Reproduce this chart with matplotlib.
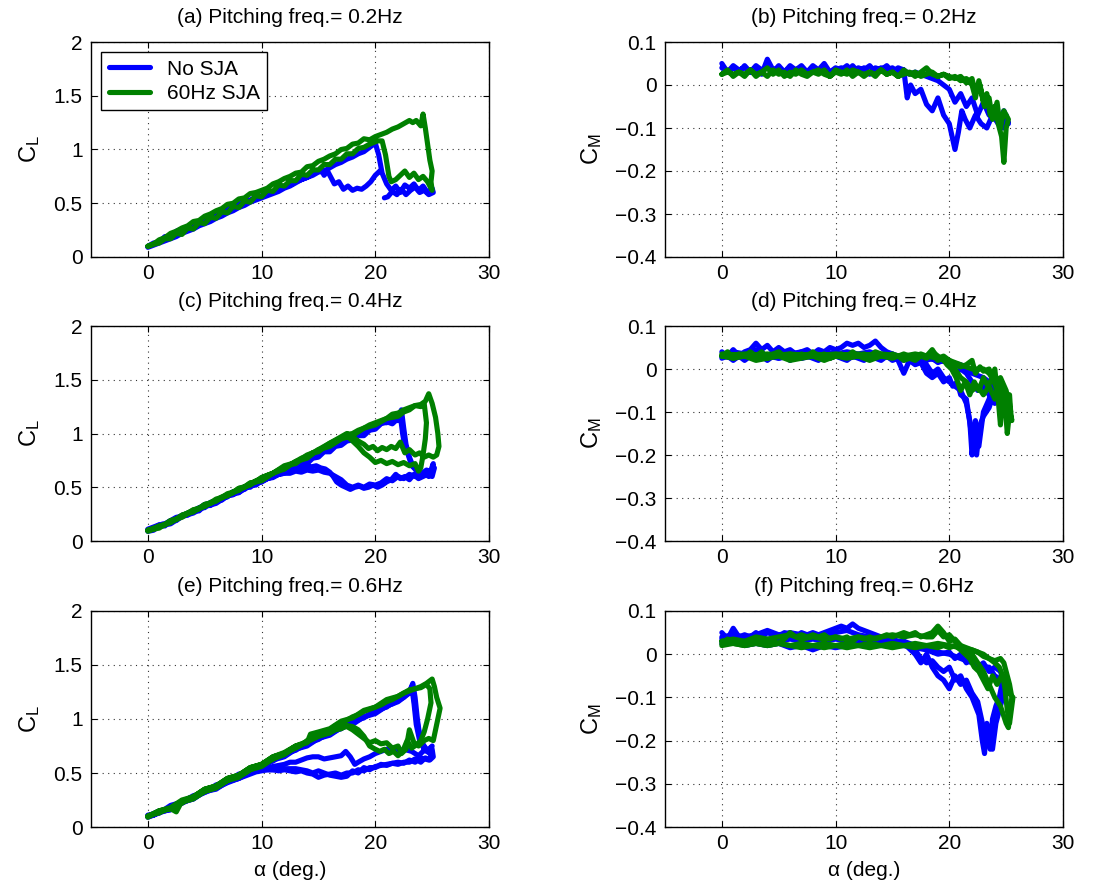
import numpy as np
import matplotlib
matplotlib.use("Agg")
import matplotlib.pyplot as plt

plt.rcParams['font.family'] = ['Liberation Sans', 'DejaVu Sans']
plt.rcParams['mathtext.fontset'] = 'custom'
plt.rcParams['mathtext.rm'] = 'Liberation Sans'
plt.rcParams['mathtext.it'] = 'Liberation Sans'

nan = float('nan')

# ---------------- data: (alpha [deg], coefficient) ----------------
# (a) CL, 0.2 Hz
a_blue = [(0,0.10),(0.5,0.13),(1,0.14),(1.5,0.19),(2,0.18),(2.5,0.24),(3,0.26),(3.5,0.27),(4,0.31),(4.5,0.33),
          (5,0.36),(5.5,0.37),(6,0.41),(6.5,0.42),(7,0.45),(7.5,0.48),(8,0.49),(8.5,0.52),(9,0.53),(9.5,0.56),
          (10,0.57),(10.5,0.60),(11,0.61),(11.5,0.63),(12,0.66),(12.5,0.67),(13,0.70),(13.5,0.72),(14,0.74),(14.5,0.76),
          (15,0.79),(15.5,0.80),(16,0.83),(16.5,0.86),(17,0.88),(17.5,0.91),(18,0.93),(18.5,0.96),(19,0.98),(19.5,1.02),(20,1.06),
          (20.3,0.95),(20.6,0.78),(21.0,0.68),(21.4,0.62),(21.8,0.66),(22.2,0.60),(22.6,0.67),(23.0,0.64),(23.4,0.68),(23.8,0.62),
          (24.2,0.66),(24.6,0.60),(25.0,0.64),(25.1,0.60),(24.7,0.58),(24.3,0.62),(23.9,0.60),(23.5,0.65),(23.1,0.62),(22.7,0.58),
          (22.3,0.63),(21.9,0.58),(21.5,0.61),(21.1,0.56),(20.8,0.55),(nan,nan),
          (20.4,0.80),(20.0,0.76),(19.6,0.70),(19.2,0.66),(18.8,0.63),(18.4,0.64),(18.0,0.62),(17.6,0.66),(17.2,0.63),(16.8,0.70),
          (16.4,0.68),(16.1,0.74),(15.8,0.80),(15.5,0.76),(15.2,0.82),(14.8,0.79),(14.4,0.77),(14.0,0.74),(13.5,0.72),(13.0,0.69),
          (12.5,0.66),(12.0,0.64),(11.5,0.61),(11.0,0.59),(10.5,0.57),(10.0,0.55),(9.5,0.53),(9,0.51),(8.5,0.48),(8,0.46),
          (7.5,0.43),(7,0.41),(6.5,0.38),(6,0.36),(5.5,0.33),(5,0.31),(4.5,0.29),(4,0.26),(3.5,0.24),(3,0.22),
          (2.5,0.19),(2,0.17),(1.5,0.15),(1,0.13),(0.5,0.11),(0,0.09)]
a_green = [(0,0.10),(0.5,0.12),(1,0.16),(1.5,0.18),(2,0.22),(2.5,0.24),(3,0.27),(3.5,0.29),(4,0.33),(4.5,0.34),
           (5,0.38),(5.5,0.40),(6,0.43),(6.5,0.45),(7,0.49),(7.5,0.50),(8,0.54),(8.5,0.55),(9,0.59),(9.5,0.60),
           (10,0.62),(10.5,0.64),(11,0.68),(11.5,0.70),(12,0.73),(12.5,0.75),(13,0.78),(13.5,0.79),(14,0.84),(14.5,0.85),
           (15,0.89),(15.5,0.91),(16,0.94),(16.5,0.96),(17,1.00),(17.5,1.01),(18,1.05),(18.5,1.06),(19,1.10),(19.5,1.09),(20,1.12),
           (20.5,1.14),(21,1.16),(21.5,1.19),(22,1.21),(22.5,1.24),(23,1.27),(23.3,1.25),(23.6,1.27),(24,1.22),(24.2,1.33),
           (24.4,1.20),(24.6,1.05),(24.8,0.90),(25.0,0.80),(24.9,0.70),(25.0,0.62),
           (24.6,0.70),(24.2,0.75),(23.8,0.72),(23.4,0.78),(23.0,0.74),(22.6,0.80),(22.2,0.76),(21.8,0.72),(21.4,0.70),(21.2,0.75),
           (20.9,0.95),(20.6,1.08),(20.2,1.08),
           (19.5,1.05),(19,1.02),(18.5,1.01),(18,0.96),(17.5,0.96),(17,0.91),(16.5,0.91),(16,0.86),(15.5,0.86),(15,0.81),
           (14.5,0.81),(14,0.76),(13.5,0.77),(13,0.71),(12.5,0.71),(12,0.66),(11.5,0.67),(11,0.61),(10.5,0.62),(10,0.56),
           (9.5,0.57),(9,0.51),(8.5,0.52),(8,0.46),(7.5,0.47),(7,0.41),(6.5,0.42),(6,0.36),(5.5,0.37),(5,0.31),
           (4.5,0.32),(4,0.26),(3.5,0.27),(3,0.21),(2.5,0.22),(2,0.17),(1.5,0.17),(1,0.13),(0.5,0.12),(0,0.10)]

# (b) CM, 0.2 Hz
b_blue = [(0,0.05),(0.5,0.03),(1,0.04),(1.5,0.03),(2,0.045),(2.5,0.03),(3,0.04),(3.5,0.025),(4,0.06),(4.5,0.035),
          (5,0.04),(5.5,0.03),(6,0.045),(6.5,0.035),(7,0.04),(7.5,0.03),(8,0.045),(8.5,0.035),(9,0.05),(9.5,0.03),
          (10,0.04),(10.5,0.035),(11,0.045),(11.5,0.03),(12,0.04),(12.5,0.035),(13,0.045),(13.5,0.03),(14,0.04),(14.5,0.035),
          (15,0.04),(15.5,0.03),(16,0.035),
          (16.3,-0.03),(16.6,0.0),(17,-0.02),(17.5,-0.01),(18,-0.045),(18.5,-0.06),(19,-0.03),(19.5,-0.07),(20,-0.09),(20.5,-0.15),
          (20.8,-0.11),(21.1,-0.06),(21.4,-0.08),(21.8,-0.10),(22.3,-0.07),(22.8,-0.09),(23.3,-0.10),(23.8,-0.07),(24.3,-0.09),(24.7,-0.10),
          (25.0,-0.07),(25.2,-0.09),
          (24.8,-0.06),(24.4,-0.08),(24.0,-0.05),(23.5,-0.07),(23.0,-0.04),(22.5,-0.07),(22.0,-0.03),(21.5,-0.05),(21.0,-0.02),(20.5,-0.04),
          (20.0,-0.01),(19.5,0.0),(19.0,0.01),(18.5,0.015),(18.0,0.02),(17.5,0.025),(17.0,0.03),(16.5,0.025),(16.0,0.035),
          (15.5,0.04),(15,0.03),(14.5,0.045),(14,0.035),(13.5,0.04),(13,0.025),(12.5,0.04),(12,0.03),(11.5,0.045),(11,0.03),
          (10.5,0.04),(10,0.035),(9.5,0.025),(9,0.04),(8.5,0.03),(8,0.04),(7.5,0.03),(7,0.045),(6.5,0.035),(6,0.04),
          (5.5,0.03),(5,0.045),(4.5,0.03),(4,0.04),(3.5,0.035),(3,0.045),(2.5,0.03),(2,0.04),(1.5,0.035),(1,0.045),
          (0.5,0.03),(0,0.04)]
b_green = [(0,0.025),(0.5,0.035),(1,0.02),(1.5,0.03),(2,0.025),(2.5,0.035),(3,0.02),(3.5,0.03),(4,0.04),(4.5,0.025),
           (5,0.035),(5.5,0.02),(6,0.03),(6.5,0.025),(7,0.035),(7.5,0.025),(8,0.03),(8.5,0.035),(9,0.025),(9.5,0.02),
           (10,0.035),(10.5,0.03),(11,0.025),(11.5,0.035),(12,0.03),(12.5,0.02),(13,0.03),(13.5,0.025),(14,0.035),(14.5,0.025),
           (15,0.03),(15.5,0.02),(16,0.025),(16.5,0.03),(17,0.02),(17.5,0.03),(18,0.04),(18.5,0.025),(19,0.02),(19.5,0.025),(20,0.015),
           (20.5,0.02),(21,0.01),(21.5,0.015),(22,0.0),(22.3,-0.03),(22.6,0.01),(23,-0.04),(23.3,-0.02),(23.6,-0.07),(24,-0.05),
           (24.3,-0.09),(24.6,-0.12),(24.8,-0.18),(25.0,-0.10),(25.2,-0.08),
           (24.8,-0.06),(24.5,-0.10),(24.2,-0.04),(23.8,-0.08),(23.5,-0.03),(23.1,-0.05),(22.7,0.0),(22.3,-0.02),(22.0,0.015),(21.5,0.005),
           (21.0,0.02),(20.5,0.015),(20.0,0.02),
           (19.5,0.025),(19,0.02),(18.5,0.03),(18,0.025),(17.5,0.02),(17,0.03),(16.5,0.025),(16,0.035),(15.5,0.02),(15,0.03),
           (14.5,0.025),(14,0.035),(13.5,0.02),(13,0.03),(12.5,0.025),(12,0.03),(11.5,0.02),(11,0.035),(10.5,0.025),(10,0.03),
           (9.5,0.02),(9,0.035),(8.5,0.025),(8,0.03),(7.5,0.02),(7,0.025),(6.5,0.035),(6,0.02),(5.5,0.03),(5,0.025),
           (4.5,0.035),(4,0.02),(3.5,0.03),(3,0.025),(2.5,0.035),(2,0.02),(1.5,0.03),(1,0.025),(0.5,0.03),(0,0.025)]

# (c) CL, 0.4 Hz (two cycles each)
c_blue_1 = [(0,0.10),(0.5,0.12),(1,0.15),(1.5,0.16),(2,0.19),(2.5,0.22),(3,0.23),(3.5,0.26),(4,0.28),(4.5,0.31),
            (5,0.31),(5.5,0.36),(6,0.37),(6.5,0.40),(7,0.41),(7.5,0.46),(8,0.45),(8.5,0.50),(9,0.50),(9.5,0.54),
            (10,0.55),(10.5,0.58),(11,0.59),(11.5,0.62),(12,0.63),(12.5,0.67),(13,0.66),(13.5,0.71),(14,0.72),(14.5,0.77),
            (15,0.78),(15.5,0.83),(16,0.83),(16.5,0.88),(17,0.89),(17.5,0.93),(18,0.94),(18.5,0.98),(19,0.98),(19.5,1.03),
            (20,1.04),(20.5,1.09),(21,1.11),(21.5,1.09),(22,1.14),
            (22.3,1.22),(22.5,1.05),(22.7,0.90),(23.0,0.78),(23.3,0.70),(23.7,0.64),(24.0,0.60),(24.5,0.62),(25.0,0.60),(25.2,0.68),
            (24.6,0.62),(24.2,0.60),(23.8,0.58),(23.4,0.62),(23.0,0.57),(22.6,0.60),(22.2,0.58),(21.8,0.62),(21.4,0.57),(21.0,0.55),
            (20.6,0.52),(20.2,0.50),(19.8,0.52),(19.4,0.50),(19.0,0.49),(18.6,0.51),(18.2,0.50),(17.8,0.48),(17.4,0.50),(17.0,0.52),
            (16.6,0.55),(16.3,0.60),(16.0,0.64),(15.6,0.67),(15.2,0.68),(14.8,0.70),(14.4,0.69),(14.0,0.70),(13.6,0.68),(13.2,0.69),
            (12.8,0.66),(12.4,0.67),(12.0,0.64),(11.5,0.62),(11.0,0.60),(10.5,0.58),(10.0,0.56),(9.5,0.52),(9,0.52),(8.5,0.48),
            (8,0.47),(7.5,0.43),(7,0.42),(6.5,0.38),(6,0.37),(5.5,0.33),(5,0.33),(4.5,0.28),(4,0.28),(3.5,0.24),
            (3,0.23),(2.5,0.19),(2,0.19),(1.5,0.14),(1,0.14),(0.5,0.10),(0,0.09)]
c_blue_2 = [(0,0.11),(1,0.15),(2,0.17),(3,0.24),(4,0.27),(5,0.34),(6,0.36),(7,0.43),(8,0.46),(9,0.53),
            (10,0.56),(11,0.62),(12,0.65),(13,0.72),(14,0.75),(15,0.83),(16,0.86),(17,0.94),(17.5,0.95),(18,0.97),
            (18.5,1.00),(19,1.02),(19.5,1.06),(20,1.07),(20.5,1.10),(21,1.10),(21.5,1.13),(22,1.12),(22.2,1.17),(22.4,1.00),
            (22.6,0.88),(22.9,0.80),(23.2,0.70),(23.6,0.66),(24,0.62),(24.5,0.66),(25,0.64),(25.1,0.72),(24.7,0.60),(24.3,0.63),
            (23.9,0.59),(23.5,0.60),(23,0.62),(22.5,0.58),(22,0.60),(21.5,0.56),(21,0.58),(20.5,0.54),(20,0.52),(19.5,0.53),
            (19,0.50),(18.5,0.52),(18,0.50),(17.5,0.52),(17,0.57),(16.5,0.60),(16,0.63),(15.5,0.64),(15,0.66),(14.5,0.65),
            (14,0.66),(13.5,0.64),(13,0.65),(12.5,0.63),(12,0.63),(11,0.61),(10,0.55),(9,0.52),(8,0.45),(7,0.42),
            (6,0.35),(5,0.32),(4,0.26),(3,0.23),(2,0.16),(1,0.14),(0,0.10)]
c_green_1 = [(0,0.09),(0.5,0.11),(1,0.14),(1.5,0.15),(2,0.19),(2.5,0.20),(3,0.24),(3.5,0.26),(4,0.29),(4.5,0.30),
             (5,0.34),(5.5,0.35),(6,0.38),(6.5,0.41),(7,0.43),(7.5,0.45),(8,0.49),(8.5,0.50),(9,0.54),(9.5,0.55),
             (10,0.59),(10.5,0.61),(11,0.63),(11.5,0.66),(12,0.67),(12.5,0.71),(13,0.72),(13.5,0.76),(14,0.78),(14.5,0.82),
             (15,0.83),(15.5,0.87),(16,0.89),(16.5,0.92),(17,0.95),(17.5,0.99),(18,1.00),(18.5,1.03),(19,1.05),(19.5,1.08),
             (20,1.10),(20.5,1.12),(21,1.14),(21.5,1.18),(22,1.19),(22.5,1.22),(23,1.24),(23.5,1.26),(24,1.27),(24.4,1.30),
             (24.7,1.37),(25.0,1.28),(25.3,1.15),(25.5,1.00),(25.6,0.88),(25.4,0.80),(25.1,0.78),(24.7,0.80),(24.3,0.78),(23.9,0.82),
             (23.5,0.80),(23.0,0.85),(22.6,0.82),(22.2,0.92),(21.8,0.86),(21.4,0.88),(21.0,0.85),(20.6,0.87),(20.2,0.84),(19.8,0.88),
             (19.4,0.86),(19.0,0.90),(18.5,0.93),(18.0,0.97),(17.5,1.00),(17.0,0.97),(16.5,0.94),(16.0,0.91),(15.5,0.88),(15.0,0.85),
             (14.5,0.82),(14,0.79),(13.5,0.77),(13,0.74),(12.5,0.71),(12,0.69),(11.5,0.66),(11,0.63),(10.5,0.61),(10,0.58),
             (9.5,0.56),(9,0.53),(8.5,0.50),(8,0.48),(7.5,0.45),(7,0.43),(6.5,0.40),(6,0.38),(5.5,0.35),(5,0.33),
             (4.5,0.30),(4,0.28),(3.5,0.26),(3,0.23),(2.5,0.20),(2,0.18),(1.5,0.15),(1,0.13),(0.5,0.11),(0,0.10)]
c_green_2 = [(0,0.10),(1,0.14),(2,0.17),(3,0.24),(4,0.27),(5,0.34),(6,0.37),(7,0.44),(8,0.47),(9,0.54),
             (10,0.56),(11,0.63),(12,0.67),(13,0.74),(14,0.77),(15,0.85),(16,0.88),(17,0.95),(18,0.98),(19,1.05),
             (20,1.08),(21,1.14),(22,1.16),(22.5,1.20),(23,1.22),(23.5,1.26),(24,1.25),(24.3,1.28),(24.5,1.10),(24.4,0.95),
             (24.2,0.80),(24.0,0.68),(23.8,0.65),(23.5,0.72),(23.0,0.70),(22.5,0.73),(22.0,0.71),(21.5,0.74),(21.0,0.72),(20.5,0.75),
             (20.0,0.73),(19.5,0.78),(19.0,0.82),(18.5,0.88),(18.0,0.93),(17.5,0.98),(17,0.96),(16,0.91),(15,0.84),(14,0.80),
             (13,0.73),(12,0.70),(11,0.63),(10,0.59),(9,0.52),(8,0.49),(7,0.42),(6,0.39),(5,0.32),(4,0.29),
             (3,0.22),(2,0.19),(1,0.12),(0,0.10)]

# (d) CM, 0.4 Hz
d_blue_1 = [(0,0.04),(0.5,0.03),(1,0.045),(1.5,0.03),(2,0.04),(2.5,0.045),(3,0.06),(3.5,0.045),(4,0.055),(4.5,0.04),
            (5,0.05),(5.5,0.04),(6,0.045),(6.5,0.035),(7,0.04),(7.5,0.045),(8,0.035),(8.5,0.045),(9,0.04),(9.5,0.05),
            (10,0.045),(10.5,0.05),(11,0.06),(11.5,0.055),(12,0.06),(12.5,0.05),(13,0.055),(13.5,0.065),(14,0.05),(14.5,0.04),
            (15,0.035),(15.5,0.03),(16,0.025),(16.5,0.02),(17,0.015),(17.5,0.02),(18,0.01),(18.5,-0.01),(19,0.0),(19.5,-0.02),
            (20,-0.03),(20.5,-0.04),(21,-0.05),(21.5,-0.08),(21.8,-0.12),(22,-0.20),(22.2,-0.15),(22.4,-0.20),(22.7,-0.13),(23,-0.11),
            (23.5,-0.09),(24,-0.05),(24.5,-0.04),(25,-0.07),(24.5,-0.06),(24,-0.08),(23.5,-0.06),(23,-0.04),(22.5,-0.05),(22,-0.03),
            (21.5,-0.01),(21,0.0),(20.5,-0.01),(20,0.01),(19.5,0.02),(19,0.015),(18.5,0.025),(18,0.02),(17.5,0.03),(17,0.025),
            (16.5,0.03),(16,0.02),(15.5,0.025),(15,0.02),(14.5,0.03),(14,0.02),(13.5,0.025),(13,0.03),(12.5,0.02),(12,0.025),
            (11.5,0.03),(11,0.02),(10.5,0.025),(10,0.03),(9.5,0.025),(9,0.03),(8.5,0.02),(8,0.025),(7.5,0.03),(7,0.025),
            (6.5,0.03),(6,0.02),(5.5,0.03),(5,0.025),(4.5,0.03),(4,0.02),(3.5,0.03),(3,0.025),(2.5,0.03),(2,0.02),
            (1.5,0.03),(1,0.02),(0.5,0.03),(0,0.025)]
d_blue_2 = [(0,0.03),(1,0.04),(2,0.035),(3,0.045),(4,0.03),(5,0.04),(6,0.035),(7,0.04),(8,0.03),(9,0.04),
            (10,0.035),(11,0.04),(12,0.035),(13,0.04),(14,0.03),(15,0.035),(15.5,0.02),(16,-0.01),(16.5,0.02),(17,0.01),
            (17.5,0.015),(18,-0.01),(18.5,-0.02),(19,-0.01),(19.5,-0.03),(20,-0.02),(20.3,-0.04),(20.7,-0.03),(21,-0.06),(21.5,-0.07),
            (22,-0.16),(22.3,-0.12),(22.6,-0.18),(23,-0.10),(23.5,-0.07),(24,-0.03),(24.5,-0.05),(25,-0.06),(24.5,-0.04),(24,-0.06),
            (23.5,-0.03),(23,-0.02),(22,-0.01),(21,0.01),(20,0.015),(19,0.02),(18,0.025),(17,0.02),(16,0.03),(15,0.025),
            (14,0.03),(13,0.025),(12,0.03),(11,0.025),(10,0.03),(9,0.025),(8,0.03),(7,0.025),(6,0.03),(5,0.025),
            (4,0.03),(3,0.025),(2,0.03),(1,0.025),(0,0.03)]
d_green_1 = [(0,0.03),(0.5,0.04),(1,0.025),(1.5,0.035),(2,0.03),(2.5,0.04),(3,0.03),(3.5,0.04),(4,0.025),(4.5,0.035),
             (5,0.04),(5.5,0.03),(6,0.035),(6.5,0.025),(7,0.035),(7.5,0.03),(8,0.04),(8.5,0.03),(9,0.035),(9.5,0.025),
             (10,0.03),(10.5,0.035),(11,0.03),(11.5,0.04),(12,0.03),(12.5,0.035),(13,0.03),(13.5,0.04),(14,0.035),(14.5,0.03),
             (15,0.035),(15.5,0.03),(16,0.035),(16.5,0.03),(17,0.03),(17.5,0.035),(18,0.03),(18.5,0.04),(19,0.03),(19.5,0.02),
             (20,0.015),(20.5,0.01),(21,0.005),(21.5,0.01),(22,0.02),(22.3,-0.01),(22.7,0.005),(23,-0.005),(23.5,0.0),(23.8,-0.02),
             (24.0,0.0),(24.3,-0.07),(24.5,-0.13),(24.7,-0.05),(24.9,-0.08),(25.1,-0.15),(25.3,-0.10),(25.5,-0.12),(25.3,-0.08),(25.0,-0.06),
             (24.6,-0.03),(24.2,-0.05),(23.8,-0.02),(23.4,-0.04),(23.0,-0.02),(22.6,-0.05),(22.2,-0.03),(21.8,-0.06),(21.4,-0.03),(21.0,-0.05),
             (20.6,-0.02),(20.2,0.0),(19.8,0.01),(19.4,0.025),(19,0.02),(18.5,0.035),(18,0.025),(17.5,0.03),(17,0.02),(16.5,0.025),
             (16,0.02),(15.5,0.03),(15,0.025),(14,0.03),(13,0.02),(12,0.03),(11,0.025),(10,0.03),(9,0.02),(8,0.03),
             (7,0.025),(6,0.02),(5,0.03),(4,0.025),(3,0.02),(2,0.03),(1,0.025),(0,0.03)]
d_green_2 = [(0,0.035),(2,0.03),(4,0.035),(6,0.03),(8,0.035),(10,0.03),(12,0.035),(14,0.03),(16,0.03),(17,0.035),
             (18,0.03),(18.5,0.045),(19,0.025),(19.5,0.03),(20,0.02),(20.5,0.0),(21,-0.02),(21.5,-0.03),(22,-0.05),(22.5,-0.04),
             (23,-0.06),(23.5,-0.04),(24,-0.07),(24.3,-0.04),(24.6,-0.10),(24.8,-0.06),(25,-0.09),(25.3,-0.06),(25.4,-0.10),(25.0,-0.05),
             (24.5,-0.02),(24,-0.03),(23.5,-0.01),(23,0.0),(22,0.0),(21,0.01),(20,0.02),(19,0.025),(18,0.03),(16,0.03),
             (14,0.035),(12,0.03),(10,0.035),(8,0.03),(6,0.035),(4,0.03),(2,0.035),(0,0.03)]

# (e) CL, 0.6 Hz
e_blue_1 = [(0,0.10),(0.5,0.11),(1,0.14),(1.5,0.16),(2,0.18),(2.5,0.21),(3,0.23),(3.5,0.26),(4,0.28),(4.5,0.30),
            (5,0.33),(5.5,0.35),(6,0.38),(6.5,0.40),(7,0.43),(7.5,0.45),(8,0.47),(8.5,0.50),(9,0.52),(9.5,0.55),
            (10,0.57),(10.5,0.60),(11,0.62),(11.5,0.65),(12,0.67),(12.5,0.69),(13,0.72),(13.5,0.74),(14,0.77),(14.5,0.79),
            (15,0.82),(15.5,0.84),(16,0.87),(16.5,0.89),(17,0.92),(17.5,0.94),(18,0.97),(18.5,0.99),(19,1.02),(19.5,1.04),
            (20,1.07),(20.5,1.09),(21,1.12),(21.5,1.14),(22,1.17),(22.5,1.20),(23,1.25),(23.3,1.33),(23.5,1.20),(23.7,1.00),
            (23.9,0.85),(24.2,0.76),(24.6,0.70),(25,0.72),(25.1,0.65),(24.8,0.62),(24.4,0.64),(24,0.60),(23.5,0.63),(23,0.60),
            (22.5,0.60),(22,0.58),(21.5,0.59),(21,0.57),(20.5,0.58),(20,0.55),(19.5,0.55),(19,0.52),(18.5,0.53),(18,0.50),
            (17.5,0.50),(17,0.48),(16.5,0.50),(16,0.49),(15.5,0.48),(15,0.46),(14.5,0.49),(14,0.50),(13.5,0.52),(13,0.51),
            (12.5,0.52),(12,0.53),(11.5,0.52),(11,0.53),(10.5,0.53),(10,0.52),(9.5,0.51),(9,0.49),(8,0.45),(7,0.41),
            (6,0.36),(5,0.32),(4,0.27),(3,0.22),(2,0.17),(1,0.13),(0,0.09)]
e_blue_2 = [(0,0.10),(1,0.15),(2,0.17),(3,0.24),(4,0.27),(5,0.34),(6,0.37),(7,0.43),(8,0.46),(9,0.53),
            (10,0.56),(11,0.62),(12,0.65),(13,0.72),(14,0.75),(15,0.82),(16,0.85),(17,0.92),(18,0.95),(19,1.02),
            (20,1.05),(21,1.12),(22,1.16),(23,1.24),(23.2,1.30),(23.4,1.15),(23.6,0.95),(23.9,0.80),(24.3,0.72),(24.8,0.68),
            (25.0,0.75),(24.7,0.72),(24.2,0.70),(23.8,0.66),(23.2,0.70),(22.5,0.72),(22,0.70),(21.5,0.73),(21,0.72),(20.5,0.70),
            (20,0.68),(19.5,0.65),(19,0.63),(18.5,0.60),(18.2,0.58),(17.8,0.65),(17.4,0.70),(17,0.66),(16.5,0.65),(16,0.64),
            (15.5,0.63),(15,0.65),(14.5,0.65),(14,0.64),(13.5,0.62),(13,0.60),(12.5,0.60),(12,0.58),(11.5,0.57),(11,0.56),
            (10.5,0.55),(10,0.54),(9,0.51),(8,0.45),(7,0.42),(6,0.36),(5,0.33),(4,0.26),(3,0.23),(2,0.16),
            (1,0.14),(0,0.10)]
e_blue_3 = [(0,0.11),(1,0.13),(2,0.20),(3,0.23),(4,0.29),(5,0.32),(6,0.39),(7,0.42),(8,0.49),(9,0.51),
            (10,0.58),(11,0.61),(12,0.68),(13,0.71),(14,0.78),(15,0.81),(16,0.88),(17,0.91),(18,0.98),(19,1.01),
            (20,1.08),(21,1.11),(22,1.19),(23,1.24),(23.3,1.28),(23.5,1.10),(23.8,0.90),(24.1,0.78),(24.5,0.72),(25,0.68),
            (24.7,0.62),(24,0.64),(23.5,0.60),(23,0.62),(22.5,0.59),(22,0.60),(21,0.58),(20,0.56),(19.5,0.53),(19,0.55),
            (18.5,0.50),(18,0.52),(17.5,0.47),(17,0.46),(16.5,0.47),(16,0.48),(15.5,0.50),(15,0.52),(14.5,0.50),(14,0.52),
            (13,0.54),(12,0.54),(11,0.53),(10,0.53),(9,0.51),(8,0.45),(7,0.42),(6,0.35),(5,0.33),(4,0.26),
            (3,0.23),(2,0.16),(1,0.14),(0,0.10)]
e_green_1 = [(0,0.10),(0.5,0.12),(1,0.13),(1.5,0.16),(2,0.17),(2.5,0.21),(3,0.22),(3.5,0.26),(4,0.28),(4.5,0.30),
             (5,0.33),(5.5,0.35),(6,0.38),(6.5,0.40),(7,0.43),(7.5,0.46),(8,0.48),(8.5,0.50),(9,0.53),(9.5,0.56),
             (10,0.58),(10.5,0.61),(11,0.63),(11.5,0.66),(12,0.68),(12.5,0.71),(13,0.73),(13.5,0.76),(14,0.80),(14.5,0.82),
             (15,0.85),(15.5,0.88),(16,0.90),(16.5,0.94),(17,0.96),(17.5,0.99),(18,1.02),(18.5,1.04),(19,1.07),(19.5,1.09),
             (20,1.11),(20.5,1.13),(21,1.16),(21.5,1.18),(22,1.21),(22.5,1.24),(23,1.26),(23.5,1.28),(24,1.30),(24.5,1.33),
             (25,1.37),(25.2,1.30),(25.4,1.20),(25.7,1.10),(25.5,1.00),(25.3,0.90),(25.1,0.80),(24.7,0.82),(24.3,0.80),(23.8,0.75),
             (23.4,0.78),(23.0,0.90),(22.7,0.72),(22.3,0.68),(22.0,0.75),(21.5,0.73),(21.0,0.78),(20.5,0.77),(20.0,0.80),(19.5,0.78),
             (19,0.82),(18.5,0.86),(18,0.90),(17.5,0.93),(17,0.92),(16.5,0.91),(16,0.88),(15,0.84),(14,0.79),(13,0.74),
             (12,0.67),(11,0.63),(10,0.56),(9,0.53),(8,0.46),(7,0.43),(6,0.36),(5,0.33),(4,0.26),(3,0.23),
             (2,0.17),(1,0.14),(0,0.10)]
e_green_2 = [(0,0.09),(1,0.15),(2,0.17),(2.5,0.14),(3,0.24),(4,0.28),(5,0.35),(6,0.38),(7,0.45),(8,0.48),
             (9,0.55),(10,0.58),(11,0.65),(12,0.68),(13,0.75),(14,0.78),(14.3,0.86),(15,0.88),(16,0.91),(17,0.98),
             (18,1.01),(19,1.08),(20,1.11),(21,1.18),(22,1.21),(23,1.27),(24,1.29),(24.5,1.32),(24.8,1.28),(24.9,1.15),
             (24.6,1.00),(24.3,0.88),(24.0,0.80),(23.6,0.76),(23.2,0.73),(22.8,0.80),(22.4,0.70),(22.0,0.66),(21.6,0.70),(21.2,0.68),
             (20.8,0.72),(20.4,0.70),(20.0,0.72),(19.5,0.75),(19.0,0.84),(18.5,0.90),(18.0,0.93),(17.5,0.94),(17.0,0.91),(16.5,0.90),
             (16,0.87),(15,0.84),(14,0.79),(13,0.75),(12,0.69),(11,0.65),(10,0.58),(9,0.55),(8,0.48),(7,0.45),
             (6,0.38),(5,0.35),(4,0.28),(3,0.25),(2,0.18),(1,0.15),(0,0.10)]

# (f) CM, 0.6 Hz
f_blue_1 = [(0,0.05),(0.5,0.035),(1,0.06),(1.5,0.04),(2,0.045),(2.5,0.04),(3,0.05),(3.5,0.04),(4,0.05),(4.5,0.045),
            (5,0.04),(5.5,0.05),(6,0.045),(6.5,0.04),(7,0.05),(7.5,0.045),(8,0.05),(8.5,0.045),(9,0.05),(9.5,0.055),
            (10,0.06),(10.5,0.065),(11,0.06),(11.5,0.07),(12,0.06),(12.5,0.055),(13,0.05),(13.5,0.045),(14,0.04),(14.5,0.04),
            (15,0.035),(15.5,0.03),(16,0.03),(16.5,0.02),(17,0.01),(17.5,-0.01),(18,-0.02),(18.5,-0.015),(19,-0.03),(19.5,-0.04),
            (20,-0.03),(20.5,-0.06),(21,-0.05),(21.5,-0.08),(22,-0.10),(22.3,-0.12),(22.6,-0.14),(22.9,-0.20),(23.1,-0.23),(23.3,-0.16),
            (23.6,-0.22),(23.8,-0.15),(24.1,-0.12),(24.4,-0.10),(24.7,-0.06),(24.5,-0.04),(24,-0.03),(23.5,-0.04),(23,-0.02),(22.5,-0.03),
            (22,-0.01),(21.5,-0.02),(21,0.0),(20.5,-0.01),(20,0.005),(19,0.0),(18,0.01),(17,0.015),(16,0.02),(15,0.02),
            (14,0.025),(13,0.02),(12,0.025),(11,0.02),(10,0.015),(9,0.02),(8,0.01),(7,0.02),(6,0.015),(5,0.025),
            (4,0.02),(3,0.025),(2,0.02),(1,0.03),(0,0.025)]
f_blue_2 = [(0,0.04),(1,0.045),(2,0.04),(3,0.045),(4,0.055),(5,0.045),(6,0.05),(7,0.045),(8,0.04),(9,0.045),
            (10,0.05),(11,0.055),(12,0.045),(13,0.04),(14,0.035),(15,0.03),(16,0.025),(17,0.0),(17.5,-0.02),(18,0.0),
            (18.5,-0.03),(19,-0.05),(19.5,-0.06),(20,-0.08),(20.5,-0.05),(21,-0.07),(21.5,-0.06),(22,-0.09),(22.5,-0.11),(23,-0.17),
            (23.2,-0.21),(23.5,-0.19),(23.8,-0.22),(24.1,-0.16),(24.5,-0.12),(24.8,-0.09),(24.6,-0.06),(24,-0.05),(23.5,-0.03),(23,-0.03),
            (22,-0.02),(21,-0.01),(20,0.0),(19,0.005),(18,0.02),(17,0.02),(16,0.03),(15,0.025),(14,0.03),(13,0.03),
            (12,0.035),(11,0.03),(10,0.035),(9,0.03),(8,0.035),(7,0.03),(6,0.035),(5,0.03),(4,0.035),(3,0.03),
            (2,0.035),(1,0.03),(0,0.035)]
f_green_1 = [(0,0.025),(0.5,0.035),(1,0.03),(1.5,0.025),(2,0.03),(2.5,0.025),(3,0.035),(3.5,0.03),(4,0.025),(4.5,0.03),
             (5,0.025),(5.5,0.035),(6,0.05),(6.5,0.04),(7,0.045),(7.5,0.04),(8,0.045),(8.5,0.04),(9,0.045),(9.5,0.035),
             (10,0.04),(10.5,0.035),(11,0.04),(11.5,0.03),(12,0.04),(12.5,0.035),(13,0.04),(13.5,0.035),(14,0.04),(14.5,0.045),
             (15,0.04),(15.5,0.045),(16,0.05),(16.5,0.045),(17,0.05),(17.5,0.04),(18,0.045),(18.5,0.05),(19,0.065),(19.5,0.05),
             (20,0.03),(20.5,0.035),(21,0.02),(21.5,0.015),(22,0.01),(22.5,0.005),(23,-0.005),(23.5,-0.01),(24,-0.02),(24.4,-0.03),
             (24.7,-0.05),(24.9,-0.08),(25.1,-0.13),(25.3,-0.16),(25.5,-0.12),(25.6,-0.10),(25.3,-0.09),(25,-0.06),(24.6,-0.05),(24.2,-0.07),
             (23.8,-0.05),(23.4,-0.08),(23,-0.06),(22.6,-0.04),(22.2,-0.03),(21.8,-0.01),(21.4,0.0),(21,0.01),(20.5,0.02),(20,0.015),
             (19.5,0.02),(19,0.015),(18,0.02),(17,0.015),(16,0.02),(15,0.015),(14,0.02),(13,0.015),(12,0.02),(11,0.015),
             (10,0.02),(9,0.015),(8,0.02),(7,0.015),(6,0.02),(5,0.025),(4,0.02),(3,0.025),(2,0.02),(1,0.025),(0,0.02)]
f_green_2 = [(0,0.03),(1,0.035),(2,0.03),(3,0.04),(4,0.035),(5,0.04),(6,0.045),(7,0.035),(8,0.04),(9,0.035),
             (10,0.04),(11,0.035),(12,0.04),(13,0.035),(14,0.04),(15,0.045),(16,0.04),(17,0.045),(18,0.04),(18.5,0.04),
             (19,0.055),(19.5,0.04),(20,0.045),(20.5,0.03),(21,0.02),(21.5,0.01),(22,0.0),(22.5,-0.02),(23,-0.04),(23.5,-0.07),
             (24,-0.10),(24.5,-0.12),(25,-0.16),(25.2,-0.17),(25.5,-0.10),(25.3,-0.07),(24.8,-0.02),(24.5,-0.01),(24,-0.015),(23.5,-0.01),
             (23,0.0),(22.5,0.005),(22,0.01),(21,0.015),(20,0.02),(19,0.025),(18,0.02),(17,0.025),(16,0.02),(15,0.025),
             (14,0.02),(13,0.025),(12,0.02),(11,0.025),(10,0.02),(9,0.025),(8,0.02),(7,0.025),(6,0.02),(5,0.025),
             (4,0.02),(3,0.025),(2,0.02),(1,0.025),(0,0.03)]

titles = ['(a) Pitching freq.= 0.2Hz', '(b) Pitching freq.= 0.2Hz',
          '(c) Pitching freq.= 0.4Hz', '(d) Pitching freq.= 0.4Hz',
          '(e) Pitching freq.= 0.6Hz', '(f) Pitching freq.= 0.6Hz']
series_names = ['No SJA', '60Hz SJA']
x_ticks = [0, 10, 20, 30]
x_ticklabels = ['0', '10', '20', '30']
cl_ticks = [0, 0.5, 1, 1.5, 2]
cl_ticklabels = ['0', '0.5', '1', '1.5', '2']
cm_ticks = [-0.4, -0.3, -0.2, -0.1, 0, 0.1]
cm_ticklabels = ['\u22120.4', '\u22120.3', '\u22120.2', '\u22120.1', '0', '0.1']

panels = [
    ([a_blue], [a_green], 'CL'),
    ([b_blue], [b_green], 'CM'),
    ([c_blue_1, c_blue_2], [c_green_1, c_green_2], 'CL'),
    ([d_blue_1, d_blue_2], [d_green_1, d_green_2], 'CM'),
    ([e_blue_1, e_blue_2, e_blue_3], [e_green_1, e_green_2], 'CL'),
    ([f_blue_1, f_blue_2], [f_green_1, f_green_2], 'CM'),
]

BLUE = '#0000FF'
GREEN = '#008000'
FS = 15

fig = plt.figure(figsize=(11.02, 8.88), dpi=100)
W, H = 1102.0, 888.0
col_px = [(91, 489), (665, 1063)]
row_px = [(42, 257), (326, 541), (611, 827)]

for i, (blues, greens, kind) in enumerate(panels):
    r, c = divmod(i, 2)
    x0, x1 = col_px[c]
    y0, y1 = row_px[r]
    ax = fig.add_axes([x0 / W, 1 - y1 / H, (x1 - x0) / W, (y1 - y0) / H])
    lw = 3.7
    hb = hg = None
    for s in blues:
        xs, ys = zip(*s)
        hb, = ax.plot(xs, ys, color=BLUE, lw=lw, solid_joinstyle='round', solid_capstyle='round')
    for s in greens:
        xs, ys = zip(*s)
        hg, = ax.plot(xs, ys, color=GREEN, lw=lw, solid_joinstyle='round', solid_capstyle='round')
    ax.set_xlim(-5, 30)
    ax.set_xticks(x_ticks)
    ax.set_xticklabels(x_ticklabels)
    if kind == 'CL':
        ax.set_ylim(0, 2)
        ax.set_yticks(cl_ticks)
        ax.set_yticklabels(cl_ticklabels)
        ax.set_ylabel('C$_\\mathrm{L}$', fontsize=17, labelpad=8)
    else:
        ax.set_ylim(-0.4, 0.1)
        ax.set_yticks(cm_ticks)
        ax.set_yticklabels(cm_ticklabels)
        ax.set_ylabel('C$_\\mathrm{M}$', fontsize=17, labelpad=8)
    ax.grid(True, color='k', linestyle=(0, (1, 4)), linewidth=0.8, alpha=0.8)
    ax.tick_params(axis='x', direction='in', length=4, width=0.8, top=True, labelsize=FS, pad=5)
    ax.tick_params(axis='y', direction='in', length=4, width=0.8, right=True, labelsize=FS, pad=6)
    for sp in ax.spines.values():
        sp.set_linewidth(1.0)
    ax.set_title(titles[i], fontsize=FS, pad=14)
    if r == 2:
        ax.set_xlabel('\u03b1 (deg.)', fontsize=FS, labelpad=6)
    if i == 0:
        leg = ax.legend([hb, hg], series_names, loc='upper left', fontsize=FS,
                        fancybox=False, edgecolor='k', framealpha=1,
                        handlelength=2.0, borderaxespad=0.5, labelspacing=0.25,
                        borderpad=0.35, handletextpad=0.8)
        leg.get_frame().set_linewidth(1.0)

fig.savefig('out.png', dpi=100)
